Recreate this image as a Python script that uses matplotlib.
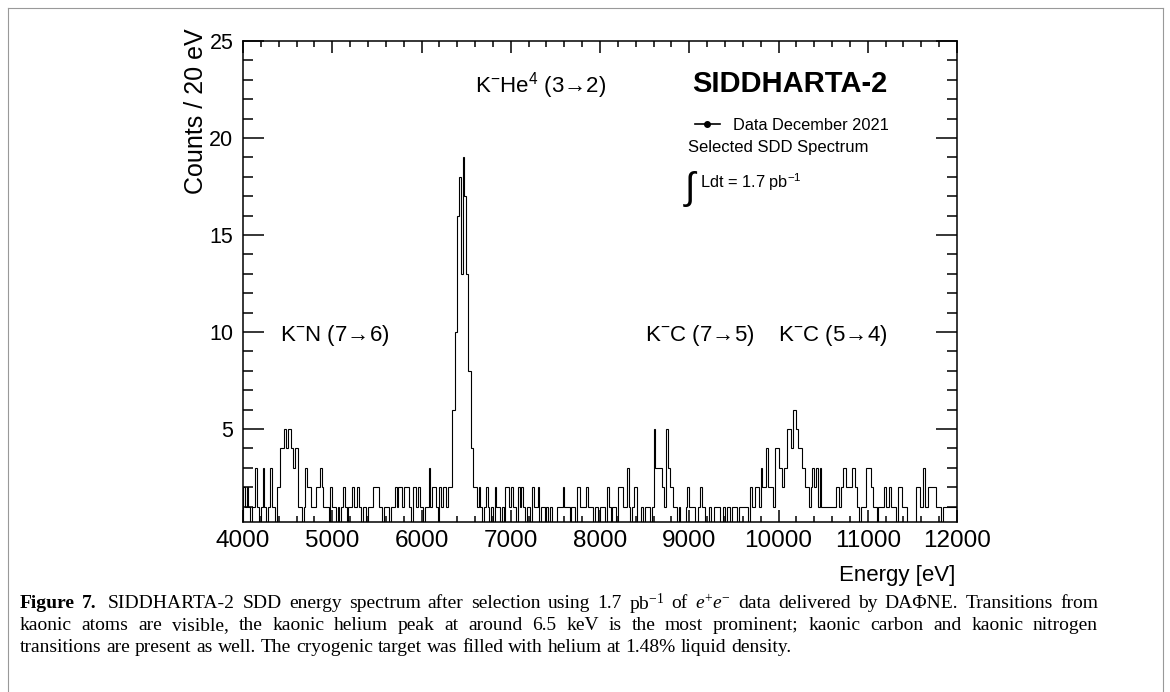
import numpy as np
import matplotlib
matplotlib.use('Agg')
import matplotlib.pyplot as plt
from matplotlib.lines import Line2D
from matplotlib.ticker import MultipleLocator

plt.rcParams['font.family'] = ['Liberation Sans', 'DejaVu Sans']
plt.rcParams['mathtext.fontset'] = 'custom'
plt.rcParams['mathtext.rm'] = 'Liberation Serif'
plt.rcParams['mathtext.it'] = 'Liberation Serif:italic'
plt.rcParams['mathtext.bf'] = 'Liberation Serif:bold'

# 20 eV bins, 4000 - 12000 eV
bin_width = 20
e_min, e_max = 4000, 12000
counts_4000 = [2,1,2,1,0, 1,1,3,1,0, 1,3,1,0,1, 3,1,1,0,2, 2,4,4,5,4, 5,5,4,3,4, 4,1,1,0,1, 3,2,2,1,1, 1]
counts_4820 = [2,2,3,2,1, 1,1,0,2,1, 1,0,1,0,1, 2,1,0,1,1, 2,1,1,2,1, 0,1,1,0,1, 1,1,2,2,2, 1,1,0,1,1]
counts_5620 = [1,0,1,1,2, 1,2,2,1,2, 2,2,1,0,2, 2,1,2,1,1, 0,1,1,3,1, 2,2,1,0,2, 1,2,2,1]
counts_khe = [2,2,6,6,10,16,18,13,19,17,13,8,8,4,2]
counts_6600 = [2,1,2,1,0, 1,2,1,0,1, 0,2,1,1,0, 1,0,2,2,1, 2,1,1,0,2, 1,2,1,0,1, 1,0]
counts_7240 = [2,1,1,2,0, 1,1,0,1,0, 1,0,0,0,1, 1,1,2,1,1, 1,0,1,1,0, 2,2,1,1,1, 2,1,1,1,0, 1,1,0,1,1]
counts_8040 = [1,0,2,1,0, 1,1,0,2,2, 2,1,1,3,1, 0,1,2,2,0, 0,1,0,1,1, 1,0,1,5,3, 3,3,3,2,1]
counts_8740 = [5,3,2,2,1, 1,0,1,0,0, 0,1,2,1,1, 1,0,0,1,2, 1,1,0,0,1, 0,0,1,1,1, 0,0,1,0,1, 1,0,1,1,1, 0,1,1,1]
counts_9620 = [1,1,0,2,1, 1,2,2,1,3, 2,2,4,2,2, 2,1,4,4,3, 3,2,3,3,5, 5,4,6,6,5, 4,4,3,3,2, 2,1,2,3,2]
counts_10420 = [3,1,3,1,1, 1,1,1,1,1, 1,2,2,1,2, 3,3,2,2,2, 3,3,2,1,0, 1,1,1,3,3, 3,2,1,1,0, 1,1,1,2,1]
counts_11220 = [1,2,1,1,1, 0,2,2,1,1, 1,0,0,0,0, 0,2,2,1,1, 3,1,1,2,2, 2,2,1,1,1, 0,1,1,1,1, 1,1,1,1]

counts = np.array(counts_4000 + counts_4820 + counts_5620 + counts_khe + counts_6600
                  + counts_7240 + counts_8040 + counts_8740 + counts_9620
                  + counts_10420 + counts_11220)
edges = np.arange(e_min, e_max + bin_width, bin_width)

caption = [
    r'Figure 7. SIDDHARTA-2 SDD energy spectrum after selection using 1.7 pb$\mathregular{^{-1}}$ of $e^{+}e^{-}$ data delivered by DAΦNE. Transitions from',
    'kaonic atoms are visible, the kaonic helium peak at around 6.5 keV is the most prominent; kaonic carbon and kaonic nitrogen',
    'transitions are present as well. The cryogenic target was filled with helium at 1.48% liquid density.',
]

fig = plt.figure(figsize=(11.7, 6.92), dpi=100)
W, H = 1170, 692
ax = fig.add_axes([243/W, (H-522)/H, 714/W, 481/H])

ax.stairs(counts, edges, color='black', lw=0.8, baseline=0)
ax.set_xlim(e_min, e_max)
ax.set_ylim(0.21, 25)

ax.xaxis.set_major_locator(MultipleLocator(1000))
ax.xaxis.set_minor_locator(MultipleLocator(200))
ax.yaxis.set_major_locator(MultipleLocator(5))
ax.yaxis.set_minor_locator(MultipleLocator(1))
ax.tick_params(which='both', direction='in', top=True, right=True, width=1.1)
ax.tick_params(axis='x', which='major', length=8.5, pad=6, labelsize=17.5)
ax.tick_params(axis='x', which='minor', length=4.3)
ax.tick_params(axis='y', which='major', length=15, pad=7, labelsize=15.5)
ax.tick_params(axis='y', which='minor', length=7.5)
for s in ax.spines.values():
    s.set_linewidth(1.1)

fig.text(196/W, 1-28/H, 'Counts / 20 eV', rotation=90, ha='center', va='top', fontsize=18)
fig.text(955/W, 1-575/H, 'Energy [eV]', ha='right', va='center', fontsize=16)

# transition labels
lab = dict(fontsize=16, va='center', ha='left')
ax.text(6600, 22.7, r'K$\mathregular{^{-}}$He$\mathregular{^{4}}$ (3→2)', **lab)
ax.text(4415, 9.84, r'K$\mathregular{^{-}}$N (7→6)', **lab)
ax.text(8504, 9.84, r'K$\mathregular{^{-}}$C (7→5)', **lab)
ax.text(9994, 9.84, r'K$\mathregular{^{-}}$C (5→4)', **lab)

ax.text(9031, 22.8, 'SIDDHARTA-2', fontsize=21, fontweight='bold', va='center', ha='left')
h = Line2D([], [], color='black', lw=1.2, marker='o', ms=4)
ax.legend([h], ['Data December 2021'], loc='center left', bbox_to_anchor=(0.633, 0.825),
          frameon=False, fontsize=11.8, handlelength=1.5, handletextpad=0.8,
          borderpad=0, borderaxespad=0)
ax.text(8986, 19.5, 'Selected SDD Spectrum', fontsize=12, va='center', ha='left')
ax.text(8945, 17.35, '∫', fontsize=27, va='center', ha='left')
ax.text(9120, 17.7, r'Ldt = 1.7 pb$\mathregular{^{-1}}$', fontsize=11.8, va='center', ha='left')

# caption, justified like the journal layout
renderer = fig.canvas.get_renderer()
cap_font = ['Liberation Serif', 'DejaVu Serif']
cap_size = 14
x0, x1 = 20, 1098
for i, line in enumerate(caption):
    words = line.split(' ')
    y = 1 - (604 + 22*i)/H
    objs = []
    for j, w in enumerate(words):
        bold = (i == 0 and j < 2)
        t = fig.text(0, y, w, fontsize=cap_size, family=cap_font, va='center', ha='left',
                     fontweight='bold' if bold else 'normal')
        objs.append(t)
    widths = [t.get_window_extent(renderer).width for t in objs]
    if i < len(caption) - 1:
        gap = (x1 - x0 - 4 * (i == 0) - sum(widths)) / (len(words) - 1)
    else:
        gap = 0.25 * cap_size * 100 / 72
    x = x0
    for j, (t, w) in enumerate(zip(objs, widths)):
        t.set_x(x/W)
        x += w + gap
        if i == 0 and j == 1:
            x += 4

# outer frame
for xs, ys in [([8, 8], [8, 692]), ([8, 1163], [8, 8]), ([1163, 1163], [8, 692])]:
    fig.add_artist(Line2D([x/W for x in xs], [1-y/H for y in ys], color='#999999', lw=0.8))

fig.savefig('out.png', dpi=100)
